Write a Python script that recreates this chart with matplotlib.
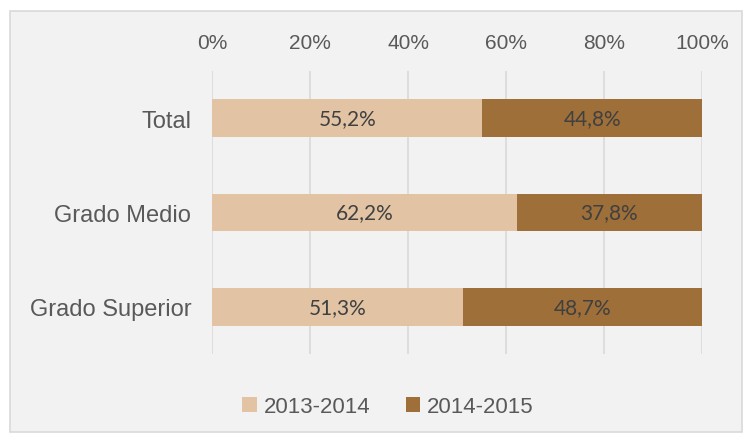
import matplotlib.pyplot as plt
from matplotlib.patches import Rectangle
from matplotlib.ticker import FuncFormatter

categories = ["Total", "Grado Medio", "Grado Superior"]
series = ["2013-2014", "2014-2015"]
share_2013 = [55.2, 62.2, 51.3]
share_2014 = [44.8, 37.8, 48.7]
colors = ["#E2C4A4", "#9E6F38"]

plt.rcParams["font.family"] = ["Liberation Sans", "DejaVu Sans"]

fig = plt.figure(figsize=(7.46, 4.35), dpi=100)
fig.patch.set_facecolor("white")
fig.patches.append(Rectangle((10 / 746, 2 / 435), 732 / 746, 421 / 435,
                             transform=fig.transFigure, facecolor="#F2F2F2",
                             edgecolor="#D9D9D9", linewidth=1.2, zorder=-1))

ax = fig.add_axes([212 / 746, 1 - 355 / 435, 490 / 746, 283 / 435])
ax.set_facecolor("none")

y = range(len(categories))
ax.barh(y, share_2013, height=0.4, color=colors[0], label=series[0], zorder=2)
ax.barh(y, share_2014, left=share_2013, height=0.4, color=colors[1], label=series[1], zorder=2)

for i in y:
    ax.text(share_2013[i] / 2, i, f"{share_2013[i]:.1f}%".replace(".", ","),
            ha="center", va="center", fontsize=15, color="#404040", family="Lato", zorder=3)
    ax.text(share_2013[i] + share_2014[i] / 2, i, f"{share_2014[i]:.1f}%".replace(".", ","),
            ha="center", va="center", fontsize=15, color="#404040", family="Lato", zorder=3)

ax.set_xlim(0, 100)
ax.set_ylim(2.5, -0.5)
ax.set_yticks(list(y))
ax.set_yticklabels(categories)
ax.set_xticks(range(0, 101, 20))
ax.xaxis.set_major_formatter(FuncFormatter(lambda v, _: f"{v:.0f}%"))
ax.xaxis.tick_top()
ax.tick_params(axis="x", length=0, pad=14, labelsize=15, labelcolor="#595959")
ax.tick_params(axis="y", length=0, pad=15, labelsize=17, labelcolor="#595959")
ax.grid(axis="x", color="#D9D9D9", linewidth=1.2, zorder=0)
for s in ax.spines.values():
    s.set_visible(False)

ax.legend(loc="center", bbox_to_anchor=(388 / 746, 1 - 408 / 435), bbox_transform=fig.transFigure,
          ncol=2, frameon=False, fontsize=16, labelcolor="#595959",
          handlelength=0.65, handleheight=0.65, handletextpad=0.3, columnspacing=1.6)

fig.savefig("out.png", dpi=100)
